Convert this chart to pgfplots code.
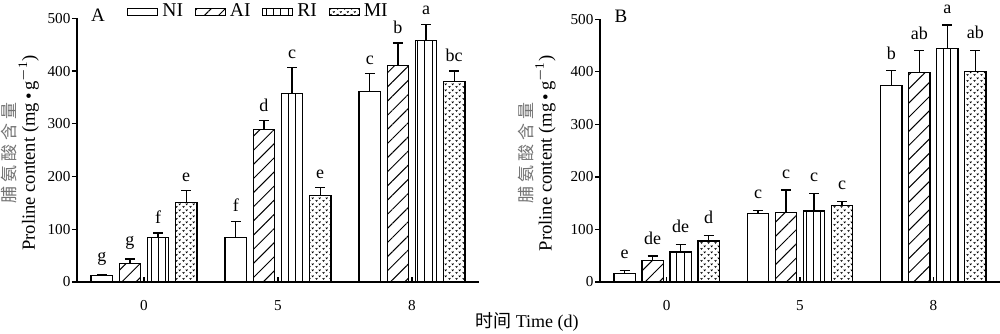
\documentclass[border=0pt]{standalone}
\usepackage{pgfplots}
\pgfplotsset{compat=1.18}
\usepackage{pgfplotstable}
\usepackage{fontspec}
\setmainfont{Liberation Serif}
\newfontfamily\tnr{Liberation Serif}
\newfontfamily\cjk{Noto Sans CJK SC}
\newfontfamily\cjkwide[LetterSpace=24]{Noto Sans CJK SC}
\usetikzlibrary{patterns,patterns.meta}

\pgfdeclarepatternformonly{vmarks}{\pgfpointorigin}{\pgfpoint{3.5pt}{3pt}}{\pgfpoint{3.5pt}{3pt}}{%
  \pgfsetlinewidth{0.4pt}%
  \pgfpathmoveto{\pgfpoint{0.4pt}{1.1pt}}\pgfpathlineto{\pgfpoint{0.9pt}{0.4pt}}\pgfpathlineto{\pgfpoint{1.4pt}{1.1pt}}%
  \pgfpathmoveto{\pgfpoint{2.15pt}{2.6pt}}\pgfpathlineto{\pgfpoint{2.65pt}{1.9pt}}\pgfpathlineto{\pgfpoint{3.15pt}{2.6pt}}%
  \pgfusepath{stroke}}

\pgfplotstableread{
x niy nie nil aiy aie ail riy rie ril miy mie mil
0 12 2.5 g 35 8.5 g 84 9 f 150 23 e
1 85 30 f 289 17 d 358 48 c 164 15 e
2 361 34 c 410 43 b 458 31 a 380 20 bc
}\tblA
\pgfplotstableread{
x niy nie nil aiy aie ail riy rie ril miy mie mil
0 16 6 e 41 8.5 de 57 15 de 78 11 d
1 130 6 c 133 42 c 135 34 c 145 8.5 c
2 374 28 b 399 41 ab 445 44 a 400 41 ab
}\tblB

\pgfplotsset{
  mybar/.style={ybar, bar width=0.16, bar shift=0pt, draw=black, line width=0.6pt,
    error bars/y dir=plus, error bars/y explicit,
    error bars/error bar style={line width=0.6pt, black},
    error bars/error mark options={rotate=90, mark size=2.5pt, line width=0.6pt, black}},
  common/.style={
    scale only axis, xmin=-0.5, xmax=2.5, ymin=0, ymax=500,
    axis x line*=bottom, axis y line*=left, axis line style={-, line width=0.6pt},
    xtick={0,1,2}, xticklabels={0,5,8},
    ytick={0,100,200,300,400,500}, yticklabels={0,100,200,300,400,500},
    tick pos=left, xtick align=inside, ytick align=outside,
    major tick length=2.5pt, tick style={black, line width=0.6pt},
    tick label style={font=\tnr\fontsize{7.6}{8}\selectfont},
    yticklabel style={inner sep=0.6pt},
    /pgf/number format/assume math mode=true,
    xticklabel style={yshift=-5.5pt},
    clip=false, anchor=south west,
  },
}

% #1 table, #2 prefix, #3 shift, #4 fill style, #5 label yshift
\newcommand{\barseries}[5]{%
  \addplot[mybar, #4, legend image code/.code={\draw[line width=0.6pt, #4] (0pt,-1.75pt) rectangle (15pt,1.75pt);}]
    table[x expr=\thisrow{x}+(#3), y=#2y, y error=#2e] {#1};
  \addplot[draw=none, mark=none, forget plot, nodes near coords, point meta=explicit symbolic,
    nodes near coords style={font=\tnr\fontsize{9}{10}\selectfont, anchor=south, inner sep=0pt, yshift=#5}]
    table[x expr=\thisrow{x}+(#3), y expr=\thisrow{#2y}+\thisrow{#2e}, meta=#2l] {#1};
}

\newcommand{\ylab}{{\cjkwide\fontsize{8.5}{9.5}\selectfont\color{black!55}脯氨酸含量}\\Proline content (mg\,•\,g\textsuperscript{$-$1})}

\begin{document}
\begin{tikzpicture}
\useasboundingbox (0,0) rectangle (500pt,166.5pt);
\begin{axis}[common, at={(38.5pt,25.5pt)}, width=201pt, height=131.85pt,
  ylabel={\ylab},
  ylabel style={at={(axis description cs:-0.094,0.49)}, anchor=south, align=center, inner sep=0pt, font=\tnr\fontsize{9.3}{9.5}\selectfont},
  legend style={draw=none, fill=none, at={(0.124,1.024)}, anchor=west, legend columns=-1,
    inner sep=0pt, font=\tnr\fontsize{9.8}{10}\selectfont,
    /tikz/every even column/.append style={column sep=3.8pt}},
]
\barseries{\tblA}{ni}{-0.315}{fill=white}{4.5pt}
\barseries{\tblA}{ai}{-0.105}{pattern={Lines[angle=45,distance=5pt,line width=0.5pt]}}{4.5pt}
\barseries{\tblA}{ri}{0.105}{pattern={Lines[angle=90,distance=3.6pt,line width=0.5pt]}}{4.5pt}
\barseries{\tblA}{mi}{0.315}{pattern=vmarks}{4.5pt}
\legend{NI,AI,RI,MI}
\node[font=\tnr\fontsize{9.5}{10}\selectfont] at (axis description cs:0.052,1.012) {A};
\end{axis}
\begin{axis}[common, at={(300pt,25.5pt)}, width=200pt, height=131.35pt,
  ylabel={\ylab},
  ylabel style={at={(axis description cs:-0.11,0.49)}, anchor=south, align=center, inner sep=0pt, font=\tnr\fontsize{9.3}{9.5}\selectfont},
]
\barseries{\tblB}{ni}{-0.315}{fill=white}{5.5pt}
\barseries{\tblB}{ai}{-0.105}{pattern={Lines[angle=45,distance=5pt,line width=0.5pt]}}{5.5pt}
\barseries{\tblB}{ri}{0.105}{pattern={Lines[angle=90,distance=3.6pt,line width=0.5pt]}}{5.5pt}
\barseries{\tblB}{mi}{0.315}{pattern=vmarks}{5.5pt}
\node[font=\tnr\fontsize{9.5}{10}\selectfont] at (axis description cs:0.0525,1.012) {B};
\end{axis}
\node[anchor=base, font=\tnr\fontsize{9}{10}\selectfont] at (263.5pt,2.7pt) {{\cjk 时间} Time (d)};
\end{tikzpicture}
\end{document}
